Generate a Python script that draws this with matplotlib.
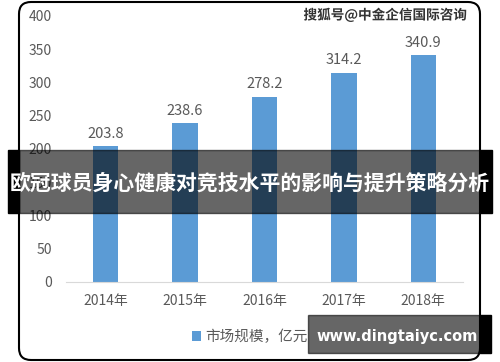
import matplotlib.pyplot as plt
from matplotlib.patches import Rectangle, FancyBboxPatch
import matplotlib.patheffects as pe

plt.rcParams['font.family'] = ['Noto Sans CJK SC', 'DejaVu Sans']

# data
years = ['2014年', '2015年', '2016年', '2017年', '2018年']
market_size = [203.8, 238.6, 278.2, 314.2, 340.9]
series_name = '市场规模，亿元'
y_ticks = [0, 50, 100, 150, 200, 250, 300, 350, 400]

title = '欧冠球员身心健康对竞技水平的影响与提升策略分析'
source = '搜狐号@中金企信国际咨询'
site = 'www.dingtaiyc.com'

grey = '#595959'
blue = '#5b9bd5'

fig = plt.figure(figsize=(5, 3.62), dpi=100)
ax = fig.add_axes([0.132, 0.221, 0.794, 0.735])

x = range(len(years))
bars = ax.bar(x, market_size, width=0.32, color=blue, label=series_name)
ax.bar_label(bars, labels=[f'{v:.1f}' for v in market_size], padding=4,
             fontsize=10.5, color=grey)

ax.set_xlim(-0.5, len(years) - 0.5)
ax.set_ylim(0, 400)
ax.set_yticks(y_ticks)
ax.set_xticks(list(x))
ax.set_xticklabels(years)
ax.tick_params(length=0, labelsize=10, labelcolor=grey)
ax.tick_params(axis='y', pad=10)
ax.tick_params(axis='x', pad=9)
for s in ['top', 'right', 'left']:
    ax.spines[s].set_visible(False)
ax.spines['bottom'].set_color('#d9d9d9')

ax.legend(loc='center', bbox_to_anchor=(0.5, 0.069), bbox_transform=fig.transFigure,
          frameon=False, handlelength=0.6, handleheight=0.6, handletextpad=0.3,
          prop={'size': 10.5}, labelcolor=grey)

# rounded frame around the chart (pixel coords)
frame = FancyBboxPatch((19, 2), 461, 358, boxstyle='round,pad=0,rounding_size=12',
                       transform=None, fill=False, edgecolor='black', linewidth=1.5)
fig.patches.append(frame)

fig.text(0.934, 0.958, source, ha='right', va='center', fontsize=9.8, fontweight='bold',
         color='#333333', path_effects=[pe.withStroke(linewidth=2, foreground='white')])

# title banner
H = 362
fig.patches.append(Rectangle((8 / 500, (H - 213) / H), 11 / 500, 63 / H,
                             transform=fig.transFigure, color='black', zorder=10))
fig.patches.append(Rectangle((480 / 500, (H - 213) / H), 12 / 500, 63 / H,
                             transform=fig.transFigure, color='black', zorder=10))
fig.patches.append(Rectangle((19 / 500, (H - 213) / H), 461 / 500, 63 / H,
                             transform=fig.transFigure, color='black', alpha=0.6, zorder=10))
fig.text(0.5, (H - 183) / H, title, ha='center', va='center', fontsize=15,
         fontweight='bold', color='white', zorder=11)

# site watermark
fig.patches.append(Rectangle((480 / 500, (H - 353) / H), 11 / 500, 38 / H,
                             transform=fig.transFigure, color='black', zorder=10))
fig.patches.append(Rectangle((308 / 500, (H - 353) / H), 172 / 500, 38 / H,
                             transform=fig.transFigure, color='black', alpha=0.6, zorder=10))
fig.text(478 / 500, (H - 336) / H, site, ha='right', va='center', fontsize=10.5,
         fontweight='bold', color='white', family='DejaVu Sans', zorder=11)

fig.savefig('out.png', dpi=100)
